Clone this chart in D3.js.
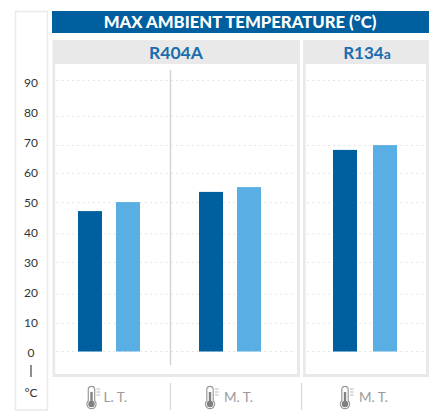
<!DOCTYPE html>
<html>
<head>
<meta charset="utf-8">
<script src="https://cdn.jsdelivr.net/npm/d3@7"></script>
<style>
  html, body { margin: 0; padding: 0; background: #fff; overflow: hidden; }
  svg { display: block; font-family: Lato, sans-serif; }
</style>
</head>
<body>
<script>
// chart values
var chartTitle = "MAX AMBIENT TEMPERATURE (°C)";
var groups = ["g1", "g2", "g3"];
var groupLabels = ["L. T.", "M. T.", "M. T."];
var seriesNames = ["dark", "light"];
var darkValues = [46.8, 53.2, 67.2];
var lightValues = [49.8, 54.8, 68.8];
var yTicks = [0, 10, 20, 30, 40, 50, 60, 70, 80, 90];
// the dotted lines in the original do not sit exactly on the ticks
var gridValues = [0, 9.4, 19.1, 29.7, 39.2, 49.6, 59.4, 68.7, 78.4, 90.3];

var width = 429, height = 416;
var borderGrey = "#e9e9e9";

var svg = d3.select("body").append("svg")
    .attr("width", width)
    .attr("height", height);

var y = d3.scaleLinear().domain([0, 90]).range([351.5, 81.5]);

// centre of each pair of bars
var groupCentre = d3.scaleOrdinal().domain(groups).range([109, 230, 365]);
var groupSpread = d3.scaleOrdinal().domain(groups).range([19, 19, 20]);
var colour = d3.scaleOrdinal().domain(seriesNames).range(["#00609f", "#59afe4"]);
var barWidth = 24;

function xInner(g) {
    return d3.scalePoint().domain(seriesNames)
        .range([groupCentre(g) - groupSpread(g), groupCentre(g) + groupSpread(g)]);
}

// left box holding the axis
svg.append("rect")
    .attr("x", 15.5).attr("y", 11.5)
    .attr("width", 32).attr("height", 398.5)
    .attr("fill", "#fff").attr("stroke", borderGrey).attr("stroke-width", 1.5);

// title bar
svg.append("rect")
    .attr("x", 52).attr("y", 11)
    .attr("width", 377).attr("height", 22)
    .attr("fill", "#00609f");
svg.append("text")
    .attr("x", 240).attr("y", 27.5)
    .attr("text-anchor", "middle")
    .attr("fill", "#fff")
    .style("font-size", "16.7px").style("font-weight", 900)
    .text(chartTitle);

// the two panels
var panels = [
    { x: 52.5, w: 247.5, name: "R404A", nameX: 176 },
    { x: 303, w: 126, name: "R134", sub: "a", nameX: 367 }
];
panels.forEach(function(p) {
    svg.append("rect")
        .attr("x", p.x).attr("y", 40)
        .attr("width", p.w).attr("height", 337)
        .attr("fill", borderGrey);
    svg.append("rect")
        .attr("x", p.x + 2.7).attr("y", 64)
        .attr("width", p.w - 5.7).attr("height", 310)
        .attr("fill", "#fff");

    var t = svg.append("text")
        .attr("x", p.nameX).attr("y", 58.5)
        .attr("text-anchor", "middle")
        .attr("fill", "#1a6dae")
        .style("font-size", p.sub ? "17px" : "17.5px").style("font-weight", 700)
        .text(p.name);
    if (p.sub) {
        t.append("tspan").style("font-size", "14px").text(p.sub);
    }

    // dotted grid
    svg.append("g").selectAll("line")
        .data(gridValues)
        .enter().append("line")
        .attr("x1", p.x + 4).attr("x2", p.x + p.w - 4)
        .attr("y1", function(d) { return y(d); })
        .attr("y2", function(d) { return y(d); })
        .attr("stroke", "#e4e4e4")
        .attr("stroke-dasharray", "2 3.2");
});

// divider inside the first panel
svg.append("line")
    .attr("x1", 170.5).attr("x2", 170.5)
    .attr("y1", 70).attr("y2", 365)
    .attr("stroke", "#d2d2d2").attr("stroke-width", 1.4);

// bars
var bars = [];
groups.forEach(function(g, i) {
    bars.push({ group: g, series: "dark", value: darkValues[i] });
    bars.push({ group: g, series: "light", value: lightValues[i] });
});
svg.append("g").selectAll("rect")
    .data(bars)
    .enter().append("rect")
    .attr("x", function(d) { return xInner(d.group)(d.series) - barWidth / 2; })
    .attr("y", function(d) { return y(d.value); })
    .attr("width", barWidth)
    .attr("height", function(d) { return y(0) - y(d.value); })
    .attr("fill", function(d) { return colour(d.series); });

// y axis, labels centred in the box
var axis = svg.append("g")
    .attr("transform", "translate(31,0.8)")
    .call(d3.axisLeft(y).tickValues(yTicks).tickSize(0).tickPadding(0));
axis.select(".domain").remove();
axis.selectAll("text")
    .attr("x", 0)
    .attr("text-anchor", "middle")
    .attr("fill", "#333")
    .style("font-family", "Lato, sans-serif")
    .style("font-size", "12px")
    .style("font-weight", 400);

svg.append("line")
    .attr("x1", 31).attr("x2", 31)
    .attr("y1", 365).attr("y2", 377)
    .attr("stroke", "#444").attr("stroke-width", 1.2);
svg.append("text")
    .attr("x", 31).attr("y", 396.5)
    .attr("text-anchor", "middle")
    .attr("fill", "#333")
    .style("font-size", "12px").style("font-weight", 400)
    .text("°C");

// dividers under the panels
[170.5, 301.5].forEach(function(x) {
    svg.append("line")
        .attr("x1", x).attr("x2", x)
        .attr("y1", 383).attr("y2", 410)
        .attr("stroke", "#d8d8d8").attr("stroke-width", 1.2);
});

// thermometer icon drawn around (0,0) = centre of the bulb
function thermometer(g) {
    g.append("path")
        .attr("d", "M-3.2,-3.2 L-3.2,-14.5 A3.2,3.2 0 0 1 3.2,-14.5 L3.2,-3.2 A4.6,4.6 0 1 1 -3.2,-3.2 Z")
        .attr("fill", "#fff").attr("stroke", "#999").attr("stroke-width", 1.2);
    g.append("circle").attr("r", 3.2).attr("fill", "#808080");
    g.append("rect")
        .attr("x", -1.2).attr("y", -12)
        .attr("width", 2.4).attr("height", 11)
        .attr("fill", "#808080");
    [-15, -12, -9].forEach(function(t) {
        g.append("line")
            .attr("x1", 5).attr("x2", 8.5)
            .attr("y1", t).attr("y2", t)
            .attr("stroke", "#aaa").attr("stroke-width", 0.9);
    });
}

// bottom labels
var labelX = d3.scaleOrdinal().domain(groups).range([103.5, 224, 359]);
var iconX = d3.scaleOrdinal().domain(groups).range([91.5, 210, 345]);
groups.forEach(function(g, i) {
    thermometer(svg.append("g").attr("transform", "translate(" + iconX(g) + ",404)"));
    svg.append("text")
        .attr("x", labelX(g)).attr("y", 402)
        .attr("fill", "#9a9a9a")
        .style("font-size", "13.5px")
        .text(groupLabels[i]);
});
</script>
</body>
</html>
